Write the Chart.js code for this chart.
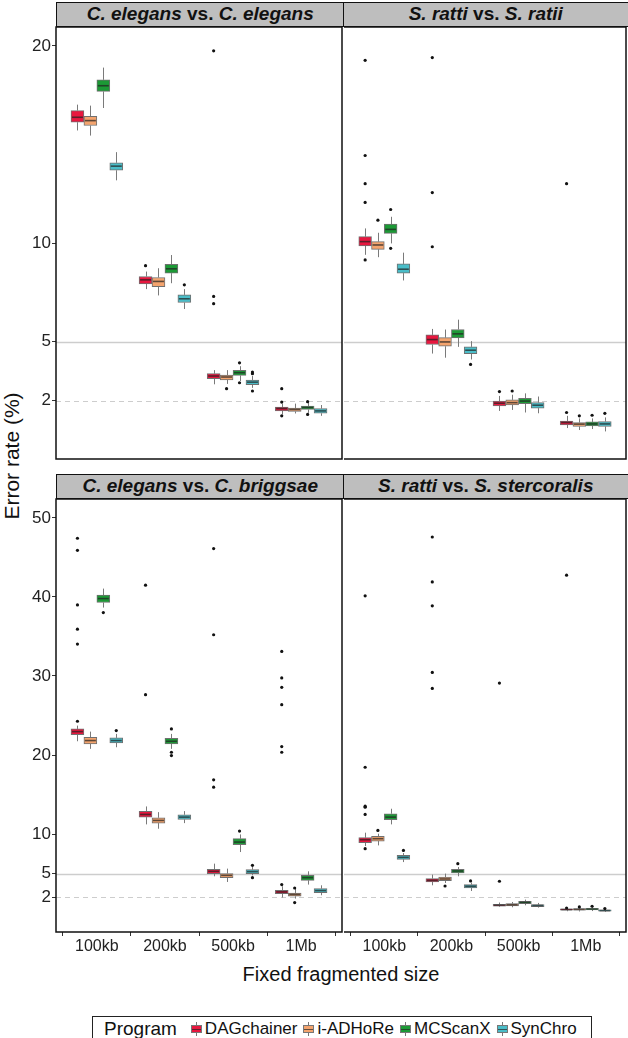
<!DOCTYPE html>
<html>
<head>
<meta charset="utf-8">
<script src="https://cdn.jsdelivr.net/npm/chart.js@4.4.1/dist/chart.umd.min.js"></script>
<style>
  html,body{margin:0;padding:0;background:#fff;}
  body{width:628px;height:1038px;overflow:hidden;position:relative;font-family:"Liberation Sans",Arial,sans-serif;color:#111;}
  canvas{position:absolute;}
  .strip{position:absolute;background:#bebebe;border:1.5px solid #111;box-sizing:border-box;text-align:center;font-weight:bold;font-size:19px;line-height:21px;color:#111;white-space:nowrap;}
  .ytitle{position:absolute;left:12px;top:456px;transform:translate(-50%,-50%) rotate(-90deg);font-size:21px;white-space:nowrap;}
  .xtitle{position:absolute;left:341px;top:964px;transform:translateX(-50%);font-size:20px;line-height:20px;white-space:nowrap;}
  #legend{position:absolute;left:92px;top:1016px;width:500px;height:26px;border:1px solid #222;box-sizing:border-box;display:flex;align-items:center;padding-left:11px;font-size:17px;white-space:nowrap;}
  #legend .ttl{font-size:19px;margin-right:14px;}
  #legend .item{display:flex;align-items:center;margin-right:6px;}
  .key{position:relative;display:inline-block;width:11px;height:14px;margin-right:3px;}
  .key:before{content:'';position:absolute;left:5px;top:0;width:1px;height:14px;background:#777;}
  .key b{position:absolute;left:0;top:3px;width:11px;height:8px;border:1px solid #777;box-sizing:border-box;}
  .key b:after{content:'';position:absolute;left:0;right:0;top:2.5px;height:1.2px;background:rgba(40,40,40,.7);}
</style>
</head>
<body>
<div class="ytitle">Error rate (%)</div>
<div class="xtitle">Fixed fragmented size</div>
<div id="legend"></div>
<script>
// ---------- data ----------
const categories = ['100kb', '200kb', '500kb', '1Mb'];
const programs = ['DAGchainer', 'i-ADHoRe', 'MCScanX', 'SynChro'];
const programColors = ['#E8173F', '#F4A46E', '#1C9A36', '#4ABDC8'];
const panelTitles = [
  ['C. elegans', 'C. elegans'],
  ['S. ratti', 'S. ratii'],
  ['C. elegans', 'C. briggsae'],
  ['S. ratti', 'S. stercoralis']
];
const yTicksTop = [2, 5, 10, 20];
const yTicksBottom = [2, 5, 10, 20, 30, 40, 50];
const refSolid = 5;
const refDashed = 2;

// box stats: [whiskerLow, Q1, median, Q3, whiskerHigh]; per program, per category
const statsCeCe = [
  [[15.71,16.13,16.38,16.72,17.02],[7.66,7.93,8.13,8.30,8.55],[2.83,3.12,3.25,3.37,3.55],[1.30,1.48,1.60,1.68,1.85]],
  [[15.45,15.96,16.21,16.43,16.97],[7.34,7.79,8.05,8.25,8.72],[2.85,3.05,3.20,3.30,3.55],[1.35,1.45,1.55,1.63,1.85]],
  [[16.85,17.69,17.98,18.28,18.90],[7.96,8.47,8.69,8.92,9.39],[3.00,3.28,3.42,3.54,3.75],[1.38,1.55,1.65,1.73,1.88]],
  [[13.18,13.69,13.90,14.07,14.61],[6.65,6.98,7.17,7.37,7.66],[2.65,2.81,2.94,3.05,3.25],[1.23,1.36,1.48,1.60,1.78]]
];
const outliersCeCe = [
  [[],[8.85],[19.75,7.29,6.92],[2.61,1.93,1.23]],
  [[],[],[2.61],[]],
  [[],[],[3.92,2.91],[1.95,1.30]],
  [[],[7.88],[3.45,3.37,2.49],[]]
];

const statsSrSr = [
  [[9.40,9.85,10.07,10.32,10.74],[4.39,4.85,5.10,5.34,5.64],[1.48,1.73,1.87,1.98,2.24],[0.61,0.77,0.89,0.97,1.23]],
  [[9.28,9.68,9.90,10.07,10.52],[4.18,4.76,4.98,5.20,5.61],[1.53,1.78,1.90,2.04,2.30],[0.51,0.69,0.81,0.89,1.10]],
  [[9.98,10.49,10.69,10.96,11.33],[4.73,5.19,5.39,5.61,6.11],[1.40,1.85,1.98,2.12,2.37],[0.56,0.72,0.82,0.92,1.10]],
  [[8.10,8.47,8.67,8.94,9.51],[4.09,4.39,4.56,4.73,5.02],[1.36,1.62,1.77,1.90,2.21],[0.44,0.69,0.82,0.94,1.15]]
];
const outliersSrSr = [
  [[19.27,14.44,13.01,12.06,9.14],[19.41,12.56,9.81],[2.46],[13.01,1.40]],
  [[11.16],[],[2.49],[1.23]],
  [[11.70,9.73],[],[],[1.26]],
  [[],[3.84],[],[1.36]]
];

const statsCeCb = [
  [[21.74,22.58,22.96,23.30,23.72],[11.22,12.14,12.48,12.86,13.49],[4.65,4.99,5.28,5.53,6.25],[1.96,2.46,2.67,2.88,3.39]],
  [[20.78,21.41,21.83,22.24,22.96],[10.67,11.38,11.72,12.06,12.77],[3.93,4.48,4.77,4.99,5.62],[1.83,2.12,2.34,2.54,3.09]],
  [[38.66,39.30,39.80,40.23,41.06],[20.78,21.41,21.74,22.12,22.67],[7.72,8.65,8.98,9.41,9.95],[3.60,4.14,4.48,4.77,5.28]],
  [[20.98,21.54,21.83,22.17,22.67],[11.38,11.85,12.14,12.44,12.90],[4.77,4.99,5.24,5.49,5.82],[2.25,2.59,2.84,3.09,3.51]]
];
const outliersCeCb = [
  [[24.27,47.43,45.91,39.00,35.93,34.04],[41.49,27.64],[46.12,35.22,16.86,15.93],[3.60,33.11,29.75,28.56,26.37,21.07,20.35]],
  [[],[],[],[3.17,1.33]],
  [[38.03],[23.30,20.35,19.93],[10.37],[]],
  [[23.09],[],[6.04,4.48],[]]
];

const statsSrSs = [
  [[8.48,8.91,9.28,9.54,10.17],[3.51,3.93,4.14,4.36,4.86],[0.77,0.86,0.98,1.11,1.33],[0.23,0.35,0.44,0.52,0.62]],
  [[8.56,9.11,9.41,9.70,10.04],[3.80,4.10,4.31,4.56,4.99],[0.73,0.90,1.05,1.20,1.40],[0.20,0.35,0.46,0.57,0.70]],
  [[11.22,11.81,12.14,12.57,13.20],[4.65,5.07,5.32,5.53,5.82],[0.98,1.20,1.35,1.49,1.70],[0.25,0.39,0.50,0.61,0.75]],
  [[6.45,6.80,7.05,7.30,7.59],[2.79,3.17,3.39,3.60,3.85],[0.69,0.82,0.95,1.07,1.28],[0.14,0.23,0.31,0.39,0.50]]
];
const outliersSrSs = [
  [[40.14,18.45,13.53,13.40,12.48,8.15],[47.59,41.91,38.88,30.45,28.43],[29.11,4.02],[42.76,0.64]],
  [[10.46],[3.42],[],[0.77]],
  [[],[6.25],[],[0.86]],
  [[7.93],[4.06],[],[0.57]]
];

// ---------- layout / style ----------
const DODGE = 0.19;
const FONT = '"Liberation Sans", Arial, sans-serif';
const panels = [
  {stats: statsCeCe, out: outliersCeCe, ticks: yTicksTop,    ymin: -0.96, ymax: 20.96, L: 56,  T: 26,  R: 343, B: 460, yAxis: true,  xAxis: false},
  {stats: statsSrSr, out: outliersSrSr, ticks: yTicksTop,    ymin: -0.96, ymax: 20.96, L: 343, T: 26,  R: 627, B: 460, yAxis: false, xAxis: false},
  {stats: statsCeCb, out: outliersCeCb, ticks: yTicksBottom, ymin: -2.4,  ymax: 52.4,  L: 56,  T: 498, R: 343, B: 932, yAxis: true,  xAxis: true},
  {stats: statsSrSs, out: outliersSrSs, ticks: yTicksBottom, ymin: -2.4,  ymax: 52.4,  L: 343, T: 498, R: 627, B: 932, yAxis: false, xAxis: true}
];

// strips
panels.forEach((p, i) => {
  const d = document.createElement('div');
  d.className = 'strip';
  d.style.left = p.L + 'px';
  d.style.top = (p.T - 24) + 'px';
  d.style.width = (p.R - p.L + 1.5) + 'px';
  d.style.height = '25px';
  const t = panelTitles[i];
  d.innerHTML = '<i>' + t[0] + '</i> vs. <i>' + t[1] + '</i>';
  document.body.appendChild(d);
});

// legend
const lg = document.getElementById('legend');
lg.innerHTML = '<span class="ttl">Program</span>' + programs.map((n, i) =>
  '<span class="item"><span class="key"><b style="background:' + programColors[i] + '"></b></span>' + n + '</span>').join('');

const boxPlugin = {
  id: 'boxes',
  beforeDatasetsDraw(chart) {
    const {ctx, chartArea: a, scales: {x, y}} = chart;
    const st = chart.options.plugins.boxes.stats;
    ctx.save();
    ctx.strokeStyle = '#cdcdcd';
    ctx.lineWidth = 1.5;
    let py = Math.round(y.getPixelForValue(refSolid)) + 0.5;
    ctx.beginPath(); ctx.moveTo(a.left, py); ctx.lineTo(a.right, py); ctx.stroke();
    ctx.lineWidth = 1;
    ctx.setLineDash([5, 4]);
    py = Math.round(y.getPixelForValue(refDashed)) + 0.5;
    ctx.beginPath(); ctx.moveTo(a.left, py); ctx.lineTo(a.right, py); ctx.stroke();
    ctx.setLineDash([]);
    ctx.strokeStyle = '#7a7a7a';
    ctx.lineWidth = 1;
    st.forEach((prog, pi) => prog.forEach((s, gi) => {
      const cx = Math.round(x.getPixelForValue(gi + 1 + (pi - 1.5) * DODGE)) + 0.5;
      ctx.beginPath();
      ctx.moveTo(cx, y.getPixelForValue(s[0])); ctx.lineTo(cx, y.getPixelForValue(s[1]));
      ctx.moveTo(cx, y.getPixelForValue(s[3])); ctx.lineTo(cx, y.getPixelForValue(s[4]));
      ctx.stroke();
    }));
    ctx.restore();
  },
  afterDatasetsDraw(chart) {
    const {ctx, scales: {x, y}} = chart;
    const st = chart.options.plugins.boxes.stats;
    const w = x.getPixelForValue(DODGE) - x.getPixelForValue(0);
    ctx.save();
    ctx.strokeStyle = 'rgba(35,35,35,0.72)';
    ctx.lineWidth = 1.6;
    st.forEach((prog, pi) => prog.forEach((s, gi) => {
      const cx = x.getPixelForValue(gi + 1 + (pi - 1.5) * DODGE);
      const my = y.getPixelForValue(s[2]);
      ctx.beginPath(); ctx.moveTo(cx - w / 2 + 1, my); ctx.lineTo(cx + w / 2 - 1, my); ctx.stroke();
    }));
    ctx.restore();
  },
  afterDraw(chart) {
    const {ctx, chartArea: a} = chart;
    const leftEdge = chart.options.plugins.boxes.leftEdge;
    ctx.save();
    ctx.strokeStyle = '#111';
    ctx.lineWidth = 1.5;
    ctx.beginPath();
    ctx.moveTo(a.left, a.top); ctx.lineTo(a.right, a.top); ctx.lineTo(a.right, a.bottom); ctx.lineTo(a.left, a.bottom);
    if (leftEdge) { ctx.closePath(); }
    ctx.stroke();
    ctx.restore();
  }
};

panels.forEach(p => {
  const cl = p.yAxis ? 0 : p.L - 3;
  const ct = p.T - 3;
  const cw = p.R + 3 - cl;
  const ch = (p.B - p.T) + 3 + (p.xAxis ? 30 : 3);
  const c = document.createElement('canvas');
  c.width = cw; c.height = ch;
  c.style.left = cl + 'px'; c.style.top = ct + 'px';
  c.style.width = cw + 'px'; c.style.height = ch + 'px';
  document.body.appendChild(c);

  const datasets = [];
  programs.forEach((name, pi) => {
    datasets.push({
      type: 'scatter', label: name + ' outliers', order: 0,
      data: p.out[pi].flatMap((arr, gi) => arr.map(v => ({x: gi + 1 + (pi - 1.5) * DODGE, y: v}))),
      pointRadius: 1.6, pointBackgroundColor: '#111', pointBorderWidth: 0
    });
  });
  programs.forEach((name, pi) => {
    datasets.push({
      type: 'bar', label: name, order: 1,
      data: p.stats[pi].map((s, gi) => ({x: gi + 1 + (pi - 1.5) * DODGE, y: [s[1], s[3]]})),
      backgroundColor: programColors[pi], borderColor: '#707070', borderWidth: 1,
      borderSkipped: false, grouped: false, barPercentage: 1, categoryPercentage: 1
    });
  });

  const axisCommon = {
    grid: {drawOnChartArea: false, drawTicks: true, tickLength: 4, color: '#333', lineWidth: 1},
    border: {display: false},
  };

  new Chart(c, {
    type: 'bar',
    data: {datasets},
    plugins: [boxPlugin],
    options: {
      responsive: false, animation: false, events: [], devicePixelRatio: 1,
      layout: {padding: {left: p.yAxis ? 0 : 3, right: 3, top: 3, bottom: p.xAxis ? 0 : 3}},
      plugins: {legend: {display: false}, tooltip: {enabled: false}, boxes: {stats: p.stats, leftEdge: p.yAxis}},
      scales: {
        x: Object.assign({}, axisCommon, {
          type: 'linear', min: 0.4, max: 4.6, offset: false, display: p.xAxis,
          ticks: {font: {size: 16, family: FONT}, color: '#222', padding: 1, maxRotation: 0, autoSkip: false,
                  callback: v => categories[v - 1]},
          afterBuildTicks: s => { s.ticks = categories.map((cName, i) => ({value: i + 1})); },
          afterFit: s => { if (p.xAxis) { s.height = 30; } s.paddingLeft = 0; s.paddingRight = 0; }
        }),
        y: Object.assign({}, axisCommon, {
          type: 'linear', min: p.ymin, max: p.ymax, display: p.yAxis,
          ticks: {font: {size: 17, family: FONT}, color: '#222', padding: 1},
          afterBuildTicks: s => { s.ticks = p.ticks.map(v => ({value: v})); },
          afterFit: s => { if (p.yAxis) { s.width = 56; } s.paddingTop = 0; s.paddingBottom = 0; }
        })
      }
    }
  });
});
</script>
</body>
</html>
